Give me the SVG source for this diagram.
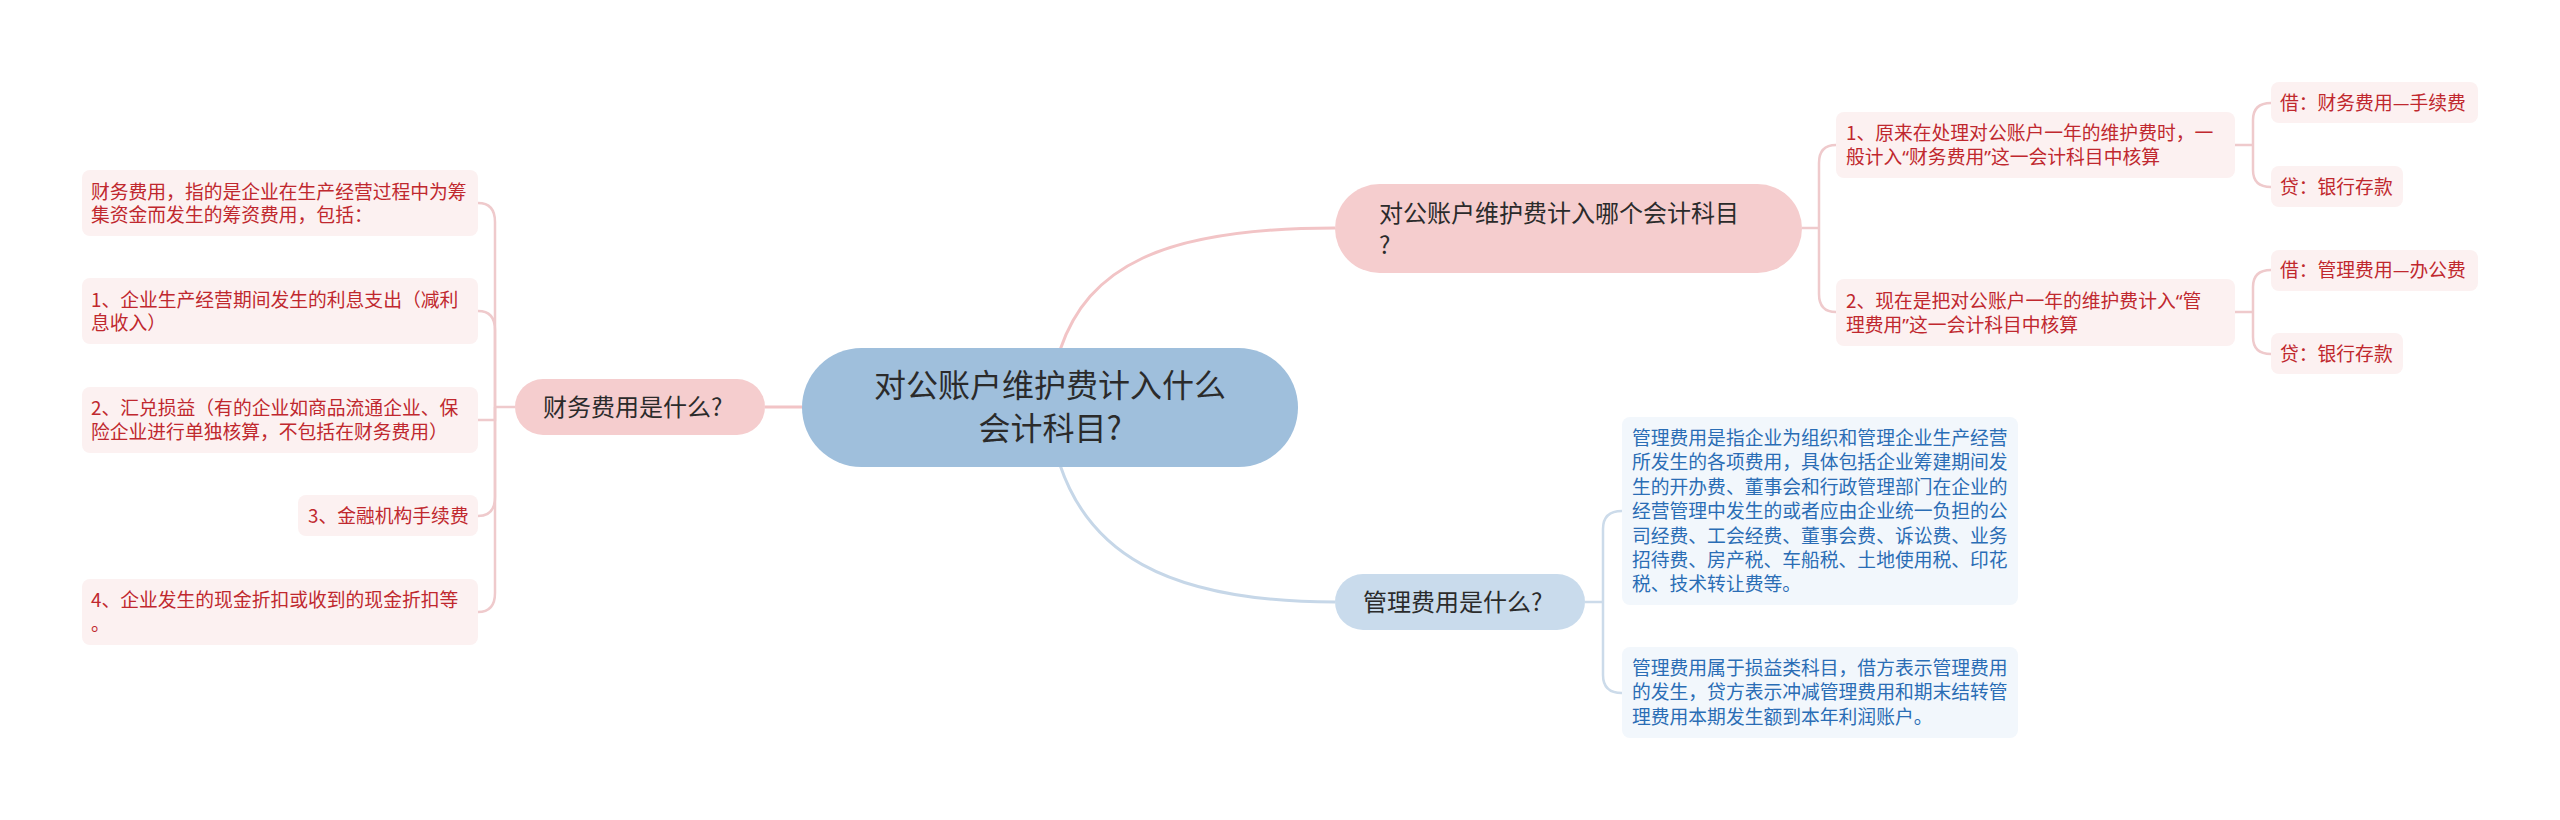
<svg xmlns="http://www.w3.org/2000/svg" width="2560" height="820" viewBox="0 0 2560 820">
<style>
text{font-family:"Noto Sans CJK SC","Noto Sans",sans-serif;}
.q{font-family:"Noto Sans","Noto Sans CJK SC",sans-serif;}
.ct{font-size:32px;fill:#2b2b2b;text-anchor:middle;}
.mt{font-size:24px;fill:#2b2b2b;}
.lt{font-size:18.8px;fill:#c0282e;}
.bt{font-size:18.8px;fill:#2a6db5;}
.pl{fill:#fcf1f1;}
.bl{fill:#f2f7fc;}
.pe{fill:none;stroke:#f2c4c6;stroke-width:3;}
.pe2{fill:none;stroke:#efcacc;stroke-width:2.5;}
.be{fill:none;stroke:#c6d7e8;stroke-width:3;}
.be2{fill:none;stroke:#ccdbea;stroke-width:2.5;}
</style>
<rect width="2560" height="820" fill="#ffffff"/>
<g id="connectors">
<path class="pe" d="M1060,350 C1088,268 1160,228 1335,228"/>
<path class="be" d="M1060,465 C1088,548 1160,602 1335,602"/>
<path class="pe" d="M802,407 H765"/>
<path class="pe2" d="M515,407 H495"/>
<path class="pe2" d="M495,407 V222 Q495,203 478,203"/>
<path class="pe2" d="M495,407 V330 Q495,311 478,311"/>
<path class="pe2" d="M495,407 V420 Q495,420 478,420"/>
<path class="pe2" d="M495,407 V497 Q495,516 478,516"/>
<path class="pe2" d="M495,407 V593 Q495,612 478,612"/>
<path class="pe2" d="M1802,228 H1819"/>
<path class="pe2" d="M1819,228 V163 Q1819,145 1836,145"/>
<path class="pe2" d="M1819,228 V294 Q1819,312 1836,312"/>
<path class="pe2" d="M2235,145 H2253"/>
<path class="pe2" d="M2253,145 V120 Q2253,103 2271,103"/>
<path class="pe2" d="M2253,145 V170 Q2253,187 2271,187"/>
<path class="pe2" d="M2235,312 H2253"/>
<path class="pe2" d="M2253,312 V287 Q2253,270 2271,270"/>
<path class="pe2" d="M2253,312 V337 Q2253,354 2271,354"/>
<path class="be2" d="M1585,602 H1603"/>
<path class="be2" d="M1603,602 V529 Q1603,511 1622,511"/>
<path class="be2" d="M1603,602 V675 Q1603,693 1622,693"/>
</g>
<g id="central">
<rect x="802" y="348" width="496" height="119" rx="59.5" fill="#9fbfdc"/>
<text class="ct" x="1050" y="397">对公账户维护费计入什么</text>
<text class="ct" x="1050" y="440">会计科目?</text>
</g>
<g id="n-right-top">
<rect x="1335" y="184" width="467" height="89" rx="44.5" fill="#f5cdce"/>
<text class="mt" x="1379" y="222">对公账户维护费计入哪个会计科目</text>
<text class="mt" x="1379" y="254">?</text>
</g>
<g id="n-left">
<rect x="515" y="379" width="250" height="56" rx="28" fill="#f5cdce"/>
<text class="mt" x="543" y="416">财务费用是什么?</text>
</g>
<g id="n-bottom">
<rect x="1335" y="574" width="250" height="56" rx="28" fill="#c9dbec"/>
<text class="mt" x="1363" y="611">管理费用是什么?</text>
</g>
<g id="l1">
<rect class="pl" x="82" y="170" width="396" height="66" rx="8"/>
<text class="lt" x="91" y="199">财务费用，指的是企业在生产经营过程中为筹</text>
<text class="lt" x="91" y="222">集资金而发生的筹资费用，包括：</text>
</g>
<g id="l2">
<rect class="pl" x="82" y="278" width="396" height="66" rx="8"/>
<text class="lt" x="91" y="307">1、企业生产经营期间发生的利息支出（减利</text>
<text class="lt" x="91" y="330">息收入）</text>
</g>
<g id="l3">
<rect class="pl" x="82" y="387" width="396" height="66" rx="8"/>
<text class="lt" x="91" y="415">2、汇兑损益（有的企业如商品流通企业、保</text>
<text class="lt" x="91" y="439">险企业进行单独核算，不包括在财务费用）</text>
</g>
<g id="l4">
<rect class="pl" x="298" y="495" width="180" height="41" rx="8"/>
<text class="lt" x="308" y="523">3、金融机构手续费</text>
</g>
<g id="l5">
<rect class="pl" x="82" y="579" width="396" height="66" rx="8"/>
<text class="lt" x="91" y="607">4、企业发生的现金折扣或收到的现金折扣等</text>
<text class="lt" x="91" y="631">。</text>
</g>
<g id="r1">
<rect class="pl" x="1836" y="112" width="399" height="66" rx="8"/>
<text class="lt" x="1846" y="140">1、原来在处理对公账户一年的维护费时，一</text>
<text class="lt" x="1846" y="164">般计入<tspan class="q">“</tspan>财务费用<tspan class="q">”</tspan>这一会计科目中核算</text>
</g>
<g id="r2">
<rect class="pl" x="1836" y="279" width="399" height="67" rx="8"/>
<text class="lt" x="1846" y="308">2、现在是把对公账户一年的维护费计入<tspan class="q">“</tspan>管</text>
<text class="lt" x="1846" y="332">理费用<tspan class="q">”</tspan>这一会计科目中核算</text>
</g>
<g id="r1a">
<rect class="pl" x="2271" y="82" width="207" height="41" rx="8"/>
<text class="lt" x="2280" y="110">借：财务费用—手续费</text>
</g>
<g id="r1b">
<rect class="pl" x="2271" y="166" width="132" height="41" rx="8"/>
<text class="lt" x="2280" y="194">贷：银行存款</text>
</g>
<g id="r2a">
<rect class="pl" x="2271" y="250" width="207" height="41" rx="8"/>
<text class="lt" x="2280" y="277">借：管理费用—办公费</text>
</g>
<g id="r2b">
<rect class="pl" x="2271" y="333" width="132" height="41" rx="8"/>
<text class="lt" x="2280" y="361">贷：银行存款</text>
</g>
<g id="b1">
<rect class="bl" x="1622" y="417" width="396" height="188" rx="8"/>
<text class="bt" x="1632" y="445">管理费用是指企业为组织和管理企业生产经营</text>
<text class="bt" x="1632" y="469.4">所发生的各项费用，具体包括企业筹建期间发</text>
<text class="bt" x="1632" y="493.8">生的开办费、董事会和行政管理部门在企业的</text>
<text class="bt" x="1632" y="518.2">经营管理中发生的或者应由企业统一负担的公</text>
<text class="bt" x="1632" y="542.6">司经费、工会经费、董事会费、诉讼费、业务</text>
<text class="bt" x="1632" y="567">招待费、房产税、车船税、土地使用税、印花</text>
<text class="bt" x="1632" y="591.4">税、技术转让费等。</text>
</g>
<g id="b2">
<rect class="bl" x="1622" y="647" width="396" height="91" rx="8"/>
<text class="bt" x="1632" y="675">管理费用属于损益类科目，借方表示管理费用</text>
<text class="bt" x="1632" y="699.4">的发生，贷方表示冲减管理费用和期末结转管</text>
<text class="bt" x="1632" y="723.8">理费用本期发生额到本年利润账户。</text>
</g>
</svg>
